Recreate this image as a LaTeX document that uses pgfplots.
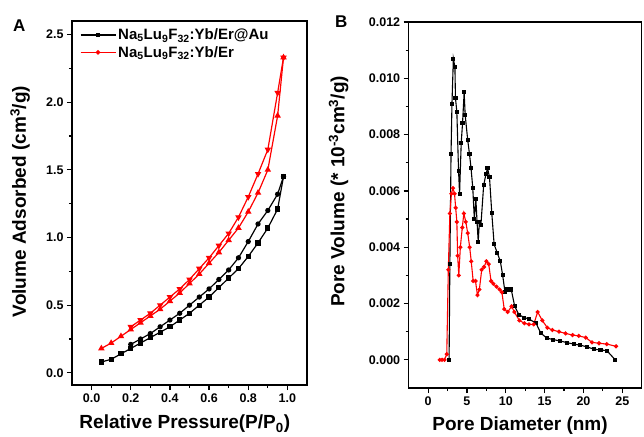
\documentclass[border=0pt]{standalone}
\usepackage{pgfplots}
\pgfplotsset{compat=1.18}
\usepackage{fontspec}
\setmainfont{Liberation Sans}
\begin{document}
\begin{tikzpicture}
\useasboundingbox (0pt,0pt) rectangle (644pt,436pt);
\pgfplotsset{
  common/.style={
    scale only axis,
    axis line style={line width=1.3pt,black},
    every tick/.style={line width=1.2pt,black},
    tick align=outside,
    tick pos=left,
    major tick length=5pt,
    minor tick length=3pt,
    minor tick num=1,
    /pgf/number format/assume math mode=true,
    every tick label/.append style={font=\fontsize{12.5}{14}\selectfont\bfseries},
    every axis label/.append style={font=\fontsize{19}{22}\selectfont\bfseries},
    scaled ticks=false,
  },
}
% ---------- Panel A ----------
\begin{axis}[common,
  name=pa,
  at={(72pt,51pt)}, anchor=south west,
  width=235pt, height=364pt,
  xmin=-0.1, xmax=1.1, ymin=-0.09, ymax=2.6,
  xtick={0,0.2,...,1.0}, ytick={0,0.5,...,2.5},
  xticklabel style={/pgf/number format/.cd,fixed,fixed zerofill,precision=1},
  yticklabel style={/pgf/number format/.cd,fixed,fixed zerofill,precision=1},
  xlabel={Relative Pressure(P/P\textsubscript{0})},
  ylabel={Volume Adsorbed (cm\textsuperscript{3}/g)},
  x label style={at={(axis description cs:0.48,-0.12)},anchor=base},
  y label style={at={(axis description cs:-0.221,0.504)},anchor=center,rotate=0},
  legend style={draw=none,fill=none,at={(axis description cs:0.02,0.99)},anchor=north west,
    font=\fontsize{15}{17}\selectfont\bfseries,row sep=1pt},
  legend cell align=left,
  legend image code/.code={\draw[mark repeat=2,mark phase=2,#1] plot coordinates {(0pt,0pt) (17.5pt,0pt) (35pt,0pt)};},
]
\addlegendimage{black,line width=1.3pt,mark=square*,mark size=1.6pt}
\addlegendimage{red,line width=1.3pt,mark=*,mark size=1.6pt}
\legend{Na\textsubscript{5}Lu\textsubscript{9}F\textsubscript{32}:Yb/Er@Au,Na\textsubscript{5}Lu\textsubscript{9}F\textsubscript{32}:Yb/Er}
\addplot[black,line width=1.2pt,mark=square*,mark size=2pt,forget plot] coordinates {
(0.05,0.08)(0.10,0.10)(0.15,0.14)(0.20,0.18)(0.25,0.22)(0.30,0.26)(0.35,0.30)(0.40,0.34)(0.45,0.39)(0.50,0.44)(0.55,0.50)(0.60,0.56)(0.65,0.63)(0.70,0.70)(0.75,0.77)(0.80,0.86)(0.85,0.96)(0.90,1.07)(0.95,1.21)(0.98,1.45)};
\addplot[black,line width=1.2pt,mark=*,mark size=2pt,forget plot] coordinates {
(0.20,0.21)(0.25,0.25)(0.30,0.29)(0.35,0.34)(0.40,0.39)(0.45,0.44)(0.50,0.50)(0.55,0.56)(0.60,0.62)(0.65,0.69)(0.70,0.76)(0.75,0.85)(0.80,0.97)(0.85,1.10)(0.90,1.20)(0.95,1.32)(0.98,1.45)};
\addplot[red,line width=1.2pt,mark=triangle*,mark size=2.6pt,forget plot] coordinates {
(0.05,0.18)(0.10,0.22)(0.15,0.27)(0.20,0.32)(0.25,0.37)(0.30,0.42)(0.35,0.47)(0.40,0.53)(0.45,0.59)(0.50,0.66)(0.55,0.73)(0.60,0.81)(0.65,0.89)(0.70,0.98)(0.75,1.07)(0.80,1.19)(0.85,1.33)(0.90,1.50)(0.95,1.90)(0.98,2.33)};
\addplot[red,line width=1.2pt,mark=triangle*,mark options={rotate=180},mark size=2.6pt,forget plot] coordinates {
(0.20,0.34)(0.25,0.39)(0.30,0.44)(0.35,0.50)(0.40,0.56)(0.45,0.62)(0.50,0.69)(0.55,0.77)(0.60,0.85)(0.65,0.94)(0.70,1.03)(0.75,1.15)(0.80,1.30)(0.85,1.47)(0.90,1.65)(0.95,2.07)(0.98,2.33)};
\end{axis}
% ---------- Panel B ----------
\begin{axis}[common,
  name=pb,
  at={(408.7pt,48pt)}, anchor=south west,
  width=233pt, height=366pt,
  xmin=-2.5, xmax=27.5, ymin=-0.001, ymax=0.012,
  xtick={0,5,...,25}, ytick={0,0.002,...,0.012},
  yticklabel style={/pgf/number format/.cd,fixed,fixed zerofill,precision=3},
  xlabel={Pore Diameter (nm)},
  ylabel={Pore Volume (* 10\textsuperscript{-3}cm\textsuperscript{3}/g)},
  x label style={at={(axis description cs:0.478,-0.117)},anchor=base},
  y label style={at={(axis description cs:-0.301,0.537)},anchor=center,rotate=0},
]
\addplot[black,line width=1.1pt,mark=square*,mark size=1.5pt] coordinates {
(2.7,0)(2.8,0.0034)(2.95,0.0073)(3.07,0.0091)(3.25,0.0107)(3.45,0.0104)(3.52,0.0093)(3.7,0.0088)(3.92,0.0067)(4.05,0.0059)(4.26,0.0077)(4.43,0.0084)(4.64,0.0095)(4.77,0.0087)(5.1,0.0078)(5.33,0.0073)(5.53,0.0068)(5.75,0.0061)(5.95,0.0050)(6.15,0.0057)(6.3,0.0049)(6.45,0.0042)(6.6,0.0049)(6.8,0.0048)(7.15,0.0062)(7.45,0.0066)(7.65,0.0068)(7.9,0.0065)(8.2,0.0052)(8.5,0.0041)(8.9,0.0038)(9.3,0.0035)(9.6,0.0030)(9.9,0.0024)(10.2,0.0025)(10.7,0.0025)(11.15,0.0019)(11.7,0.0016)(12.4,0.0015)(13.0,0.00145)(13.9,0.0013)(14.5,0.00095)(15.3,0.00077)(16.1,0.00072)(17.0,0.00067)(17.9,0.00061)(18.75,0.00056)(19.6,0.00052)(20.5,0.00046)(21.3,0.00038)(22.2,0.00035)(23.0,0.00033)(24.1,0.0)};
\addplot[red,line width=1.1pt,mark=*,mark size=1.5pt] coordinates {
(1.5,0)(1.8,0)(2.1,0)(2.4,0.0002)(2.6,0.0032)(2.8,0.0052)(3.0,0.0059)(3.2,0.0061)(3.4,0.0059)(3.55,0.0054)(3.7,0.0049)(3.8,0.0037)(3.95,0.0030)(4.15,0.0040)(4.4,0.0047)(4.6,0.0052)(4.85,0.0049)(5.1,0.0045)(5.35,0.0040)(5.55,0.0035)(5.8,0.0028)(6.1,0.0028)(6.35,0.0023)(6.6,0.0025)(6.9,0.0032)(7.2,0.0033)(7.5,0.0035)(7.8,0.0034)(8.1,0.0028)(8.4,0.0027)(8.8,0.0026)(9.2,0.0025)(9.5,0.0024)(9.8,0.0018)(10.25,0.0017)(10.75,0.0019)(11.1,0.0017)(11.75,0.0014)(12.4,0.0013)(13.0,0.00126)(13.6,0.00126)(14.1,0.0017)(14.7,0.0014)(15.35,0.00114)(16.0,0.00106)(16.85,0.0010)(17.7,0.00094)(18.6,0.00088)(19.4,0.00085)(20.3,0.00079)(21.1,0.00062)(22.0,0.00059)(23.0,0.00056)(24.2,0.00048)};
\end{axis}
\draw[line width=1.3pt,black] (72pt,51pt) rectangle (307pt,415pt);
\draw[line width=1.3pt,black] (408.7pt,48pt) rectangle (641.7pt,414pt);
\node[anchor=base west,font=\fontsize{17}{19}\selectfont\bfseries,inner sep=0pt] at (13pt,404pt) {A};
\node[anchor=base west,font=\fontsize{17}{19}\selectfont\bfseries,inner sep=0pt] at (335pt,408pt) {B};
\end{tikzpicture}
\end{document}
